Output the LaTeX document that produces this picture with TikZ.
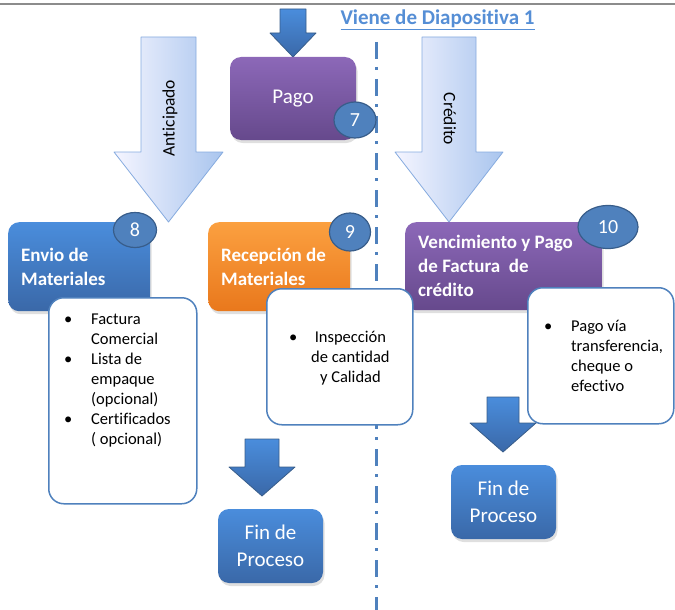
\documentclass[tikz,border=0pt]{standalone}
\usepackage{fontspec}
\setmainfont{Carlito}[RawFeature={-liga}]
\usepackage{xcolor}
\usetikzlibrary{shapes.geometric,shadows}
\definecolor{ofblue}{HTML}{4F81BD}
\definecolor{ofline}{HTML}{385D8A}
\definecolor{linkblue}{HTML}{558ED5}
\definecolor{bluetop}{HTML}{4A8DDC}
\definecolor{bluebot}{HTML}{3A68A8}
\definecolor{purtop}{HTML}{8C68B8}
\definecolor{purbot}{HTML}{66498C}
\definecolor{orgtop}{HTML}{FBA040}
\definecolor{orgbot}{HTML}{E9781C}
\definecolor{paleblue}{HTML}{A9C5EE}
\definecolor{paleline}{HTML}{86ABDF}
\newcommand{\boxfont}{\fontsize{19}{24}\selectfont\bfseries}
\newcommand{\bigfont}{\fontsize{21}{27}\selectfont}
\newcommand{\listfont}{\fontsize{16.5}{20}\selectfont}
\newcommand{\blockarrow}[7]{\draw[#1]({#2-#3},#5)--({#2+#3},#5)--({#2+#3},#6)--({#2+#4},#6)--(#2,#7)--({#2-#4},#6)--({#2-#3},#6)--cycle;}
\tikzset{
  every picture/.style={line join=round, x=1pt, y=-1pt},
  boxshadow/.style={drop shadow={opacity=0.25, shadow xshift=1.5pt, shadow yshift=-3pt}},
  bluebox/.style={top color=bluetop, bottom color=bluebot},
  purplebox/.style={top color=purtop, bottom color=purbot},
  orangebox/.style={top color=orgtop, bottom color=orgbot},
  procbox/.style={rounded corners=11pt, boxshadow, text=white, font=\boxfont, align=flush left, inner xsep=13pt, inner ysep=0pt, anchor=north west},
  plainbox/.style={rounded corners=11pt, boxshadow, text=white, font=\bigfont, align=flush center, inner sep=0pt},
  numdot/.style={ellipse, fill=ofblue, draw=ofline, line width=1.2pt, text=white, font=\fontsize{20}{20}\selectfont, inner sep=0pt},
  callout/.style={draw=ofblue, line width=1.5pt, fill=white, rounded corners=15pt, anchor=north west, inner sep=0pt},
  listtext/.style={font=\listfont, anchor=north west, inner sep=0pt},
  lightarrow/.style={draw=paleline, line width=0.8pt, left color=blue!4, right color=paleblue},
  darkarrow/.style={draw=ofline, line width=0.8pt, top color=bluetop, bottom color=bluebot},
  dashdot/.style={draw=ofblue, line width=3pt, dash pattern=on 17pt off 8pt on 3pt off 9pt},
}

\begin{document}
\begin{tikzpicture}
\useasboundingbox (0,0) rectangle (675,610);
\coordinate (lineL) at (0,4);
\coordinate (lineR) at (675,4);
\draw[black!45, line width=2.5pt] (lineL)--(lineR);
\coordinate (dashtop) at (376,42);
\coordinate (dashbot) at (376,612);
\draw[dashdot] (dashtop)--(dashbot);
\node[font=\fontsize{21}{21}\selectfont\bfseries, text=linkblue] (viene) at (437.5,20) {\underline{Viene de Diapositiva 1}};
\blockarrow{lightarrow}{168.5}{27.5}{54.5}{37}{152}{222}
\blockarrow{lightarrow}{449}{27}{54}{37}{152}{222}
\node[rotate=90, font=\fontsize{17.5}{17.5}\selectfont] (antic) at (170,118) {Anticipado};
\node[rotate=-90, font=\fontsize{17.5}{17.5}\selectfont] (cred) at (450,119) {Crédito};
\blockarrow{darkarrow}{293}{13}{23}{9}{33}{57}
\node[plainbox, purplebox, minimum width=126pt, minimum height=83pt] (pago) at (293,98.5) {Pago};
\node[numdot, minimum width=42pt, minimum height=36pt] (n7) at (355,120) {7};
\node[procbox, bluebox, text width=116pt, minimum height=89pt] (envio) at (8,222) {Envio de\\Materiales};
\node[procbox, orangebox, text width=116pt, minimum height=89pt] (recep) at (208,222) {Recepción de\\Materiales};
\node[procbox, purplebox, text width=171pt, minimum height=88pt] (venc) at (405,222) {Vencimiento y Pago\\de Factura~ de\\crédito};
\node[numdot, minimum width=43pt, minimum height=35pt] (n8) at (135,230) {8};
\node[numdot, minimum width=41pt, minimum height=38pt] (n9) at (350,232) {9};
\node[numdot, minimum width=60pt, minimum height=43pt] (n10) at (608,227) {10};
\node[callout, minimum width=148pt, minimum height=206pt] (envnotes) at (48,297) {};
\node[callout, minimum width=146pt, minimum height=136pt] (recnotes) at (266,288) {};
\node[callout, minimum width=146pt, minimum height=136pt] (vencnotes) at (527,287) {};
\node[listtext] (envlist) at (64,310) {\begin{tabular}{@{}p{27pt}@{}l@{}}
\textbullet & Factura\\ & Comercial\\ \textbullet & Lista de\\ & empaque\\ & (opcional)\\ \textbullet & Certificados\\ & ( opcional)
\end{tabular}};
\node[listtext] (reclist) at (289,328) {\begin{tabular}{@{}p{22pt}@{}c@{}}
\textbullet & Inspección\\ & de cantidad\\ & y Calidad
\end{tabular}};
\node[listtext] (venclist) at (544,317) {\begin{tabular}{@{}p{27pt}@{}l@{}}
\textbullet & Pago vía\\ & transferencia,\\ & cheque o\\ & efectivo
\end{tabular}};
\blockarrow{darkarrow}{262}{17}{33}{439}{467}{496}
\blockarrow{darkarrow}{503}{16}{33}{397}{423}{452}
\node[plainbox, bluebox, minimum width=105pt, minimum height=74pt] (fin1) at (270.5,546) {Fin de\\Proceso};
\node[plainbox, bluebox, minimum width=105pt, minimum height=74pt] (fin2) at (503.5,502) {Fin de\\Proceso};
\end{tikzpicture}
\end{document}
